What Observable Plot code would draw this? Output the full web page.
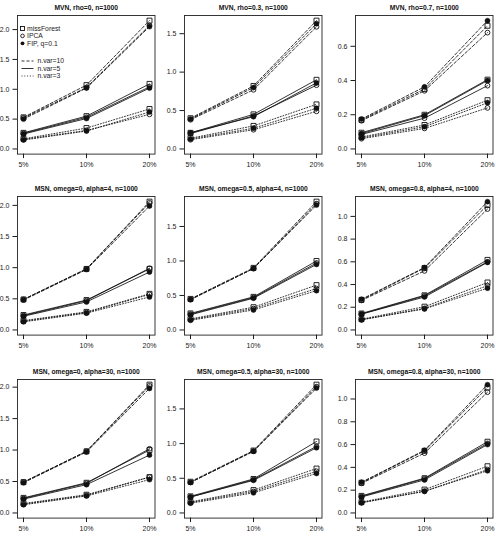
<!DOCTYPE html>
<html>
<head>
<meta charset="utf-8">
<script src="https://cdn.jsdelivr.net/npm/d3@7"></script>
<script src="https://cdn.jsdelivr.net/npm/@observablehq/plot@0.6"></script>
<style>
  html, body { margin: 0; padding: 0; background: #fff; }
  #chart { position: relative; width: 496px; height: 543px; overflow: hidden;
           font-family: "Liberation Sans", Arial, sans-serif; }
  #chart svg { position: absolute; }
</style>
</head>
<body>
<div id="chart"></div>
<script>
// Missing-data rates on the x axis, imputation methods and number of variables
const missingRates = ["5%", "10%", "20%"];
const methods = ["missForest", "IPCA", "FIP, q=0.1"];
const nVars = [10, 5, 3];

// Each panel: one block per method, holding n.var = 10, 5, 3 series over the missing rates
const mvnRho0 = [
  [[0.53, 1.07, 2.15], [0.27, 0.55, 1.09], [0.17, 0.35, 0.67]],
  [[0.52, 1.03, 2.07], [0.26, 0.53, 1.04], [0.16, 0.31, 0.58]],
  [[0.50, 1.02, 2.05], [0.25, 0.51, 1.02], [0.15, 0.30, 0.62]]
];
const mvnRho03 = [
  [[0.40, 0.82, 1.67], [0.21, 0.45, 0.90], [0.14, 0.30, 0.58]],
  [[0.38, 0.77, 1.59], [0.20, 0.43, 0.83], [0.12, 0.25, 0.49]],
  [[0.39, 0.80, 1.63], [0.21, 0.42, 0.86], [0.13, 0.27, 0.53]]
];
const mvnRho07 = [
  [[0.170, 0.350, 0.720], [0.095, 0.200, 0.405], [0.070, 0.140, 0.285]],
  [[0.165, 0.340, 0.680], [0.085, 0.180, 0.370], [0.060, 0.120, 0.240]],
  [[0.175, 0.363, 0.750], [0.090, 0.195, 0.400], [0.065, 0.130, 0.270]]
];
const msnOmega0Alpha4 = [
  [[0.49, 0.98, 2.06], [0.24, 0.48, 0.98], [0.15, 0.29, 0.58]],
  [[0.49, 0.98, 2.04], [0.23, 0.47, 0.99], [0.14, 0.28, 0.57]],
  [[0.48, 0.97, 1.99], [0.22, 0.45, 0.93], [0.13, 0.27, 0.53]]
];
const msnOmega05Alpha4 = [
  [[0.45, 0.90, 1.86], [0.24, 0.48, 1.00], [0.16, 0.33, 0.65]],
  [[0.44, 0.89, 1.83], [0.23, 0.47, 0.97], [0.15, 0.31, 0.60]],
  [[0.44, 0.89, 1.81], [0.22, 0.46, 0.95], [0.14, 0.29, 0.57]]
];
const msnOmega08Alpha4 = [
  [[0.265, 0.545, 1.100], [0.145, 0.305, 0.617], [0.095, 0.205, 0.418]],
  [[0.260, 0.520, 1.065], [0.140, 0.300, 0.600], [0.090, 0.190, 0.390]],
  [[0.270, 0.550, 1.130], [0.140, 0.290, 0.595], [0.090, 0.185, 0.368]]
];
const msnOmega0Alpha30 = [
  [[0.49, 0.98, 2.04], [0.24, 0.48, 1.00], [0.15, 0.29, 0.57]],
  [[0.49, 0.98, 2.02], [0.23, 0.47, 1.02], [0.14, 0.28, 0.57]],
  [[0.48, 0.97, 1.98], [0.22, 0.45, 0.92], [0.13, 0.27, 0.53]]
];
const msnOmega05Alpha30 = [
  [[0.45, 0.90, 1.85], [0.24, 0.49, 1.03], [0.16, 0.33, 0.64]],
  [[0.44, 0.89, 1.82], [0.23, 0.48, 0.96], [0.15, 0.31, 0.60]],
  [[0.44, 0.89, 1.80], [0.23, 0.47, 0.94], [0.14, 0.29, 0.57]]
];
const msnOmega08Alpha30 = [
  [[0.265, 0.545, 1.100], [0.150, 0.305, 0.625], [0.095, 0.205, 0.410]],
  [[0.260, 0.525, 1.060], [0.145, 0.300, 0.610], [0.090, 0.190, 0.380]],
  [[0.270, 0.550, 1.126], [0.140, 0.290, 0.600], [0.090, 0.190, 0.370]]
];

const panelTitles = [
  "MVN, rho=0, n=1000", "MVN, rho=0.3, n=1000", "MVN, rho=0.7, n=1000",
  "MSN, omega=0, alpha=4, n=1000", "MSN, omega=0.5, alpha=4, n=1000", "MSN, omega=0.8, alpha=4, n=1000",
  "MSN, omega=0, alpha=30, n=1000", "MSN, omega=0.5, alpha=30, n=1000", "MSN, omega=0.8, alpha=30, n=1000"
];
const panelValues = [
  mvnRho0, mvnRho03, mvnRho07,
  msnOmega0Alpha4, msnOmega05Alpha4, msnOmega08Alpha4,
  msnOmega0Alpha30, msnOmega05Alpha30, msnOmega08Alpha30
];
const panelYTicks = [
  [0, 0.5, 1, 1.5, 2], [0, 0.5, 1, 1.5], [0, 0.2, 0.4, 0.6],
  [0, 0.5, 1, 1.5, 2], [0, 0.5, 1, 1.5], [0, 0.2, 0.4, 0.6, 0.8, 1],
  [0, 0.5, 1, 1.5, 2], [0, 0.5, 1, 1.5], [0, 0.2, 0.4, 0.6, 0.8, 1]
];

// Line style per number of variables
const dashes = {10: "3,2", 5: undefined, 3: "1,1.8"};
const ink = "#111";

// Grid geometry of the plotting boxes
const colLeft = [16.5, 184, 354.5];
const rowTop = [15, 196, 379];
const boxW = 137.5, boxH = 138.6;
const mL = 30, mR = 4, mT = 16, mB = 22;

const chart = document.getElementById("chart");

panelValues.forEach((values, p) => {
  const rows = [];
  values.forEach((byVar, m) => byVar.forEach((series, k) => series.forEach((v, i) => {
    rows.push({method: methods[m], nvar: nVars[k], rate: missingRates[i], value: v});
  })));
  const ymax = d3.max(rows, d => d.value);
  const plot = Plot.plot({
    width: mL + boxW + mR,
    height: mT + boxH + mB,
    marginLeft: mL, marginRight: mR, marginTop: mT, marginBottom: mB,
    style: {background: "transparent", fontFamily: "'Liberation Sans', Arial, sans-serif",
            fontSize: "7px", color: "#1a1a1a", overflow: "visible"},
    x: {type: "point", domain: missingRates, padding: 0.08, label: null},
    y: {domain: [-0.04 * ymax, 1.04 * ymax], label: null},
    marks: [
      Plot.frame({stroke: "#222", strokeWidth: 0.9}),
      ...nVars.map(nv => Plot.line(rows.filter(d => d.nvar === nv), {
        x: "rate", y: "value", z: "method",
        stroke: ink, strokeWidth: 0.85, strokeDasharray: dashes[nv]
      })),
      Plot.dot(rows.filter(d => d.method === methods[0]), {
        x: "rate", y: "value", symbol: "square", r: 2.8, fill: "none", stroke: ink, strokeWidth: 0.9
      }),
      Plot.dot(rows.filter(d => d.method === methods[1]), {
        x: "rate", y: "value", symbol: "circle", r: 2.4, fill: "none", stroke: ink, strokeWidth: 0.9
      }),
      Plot.dot(rows.filter(d => d.method === methods[2]), {
        x: "rate", y: "value", symbol: "circle", r: 2.5, fill: ink, stroke: ink, strokeWidth: 0.5
      }),
      Plot.axisX({ticks: missingRates, tickSize: 4.5, tickPadding: 3, fontSize: 7, label: null}),
      Plot.axisY({ticks: panelYTicks[p], tickFormat: d3.format(".1f"), tickSize: 4.5,
                  tickPadding: 3.5, fontSize: 7, label: null}),
      Plot.text([panelTitles[p]], {text: d => d, frameAnchor: "top", dy: -10,
                                   fontWeight: "bold", fontSize: 6.7, fill: "#111"})
    ]
  });
  const c = p % 3, r = Math.floor(p / 3);
  plot.style.left = (colLeft[c] - mL) + "px";
  plot.style.top = (rowTop[r] - mT) + "px";
  chart.appendChild(plot);
});

// Legend in the first panel: methods (symbols) and n.var (line types)
const legend = d3.select(chart).append("svg")
  .attr("width", 496).attr("height", 543)
  .style("left", "0px").style("top", "0px")
  .style("pointer-events", "none")
  .attr("font-family", "'Liberation Sans', Arial, sans-serif")
  .attr("font-size", 6.8)
  .attr("fill", "#1a1a1a");

const methodRows = legend.selectAll("g.m").data(methods).join("g")
  .attr("class", "m")
  .attr("transform", (d, i) => `translate(22.5,${28.5 + i * 7.4})`);
methodRows.each(function (d, i) {
  const g = d3.select(this);
  if (i === 0) {
    g.append("rect").attr("x", -2).attr("y", -2).attr("width", 4).attr("height", 4)
      .attr("fill", "none").attr("stroke", ink).attr("stroke-width", 0.9);
  } else if (i === 1) {
    g.append("circle").attr("r", 1.8).attr("fill", "none").attr("stroke", ink).attr("stroke-width", 0.9);
  } else {
    g.append("circle").attr("r", 1.9).attr("fill", ink);
  }
});
methodRows.append("text").attr("x", 4.5).attr("dy", "0.35em").text(d => d);

const varRows = legend.selectAll("g.v").data(nVars).join("g")
  .attr("class", "v")
  .attr("transform", (d, i) => `translate(21.5,${61 + i * 7.5})`);
varRows.append("line").attr("x1", 0).attr("x2", 12).attr("stroke", ink)
  .attr("stroke-width", 0.85).attr("stroke-dasharray", d => dashes[d] || null);
varRows.append("text").attr("x", 16).attr("dy", "0.35em").text(d => `n.var=${d}`);
</script>
</body>
</html>
